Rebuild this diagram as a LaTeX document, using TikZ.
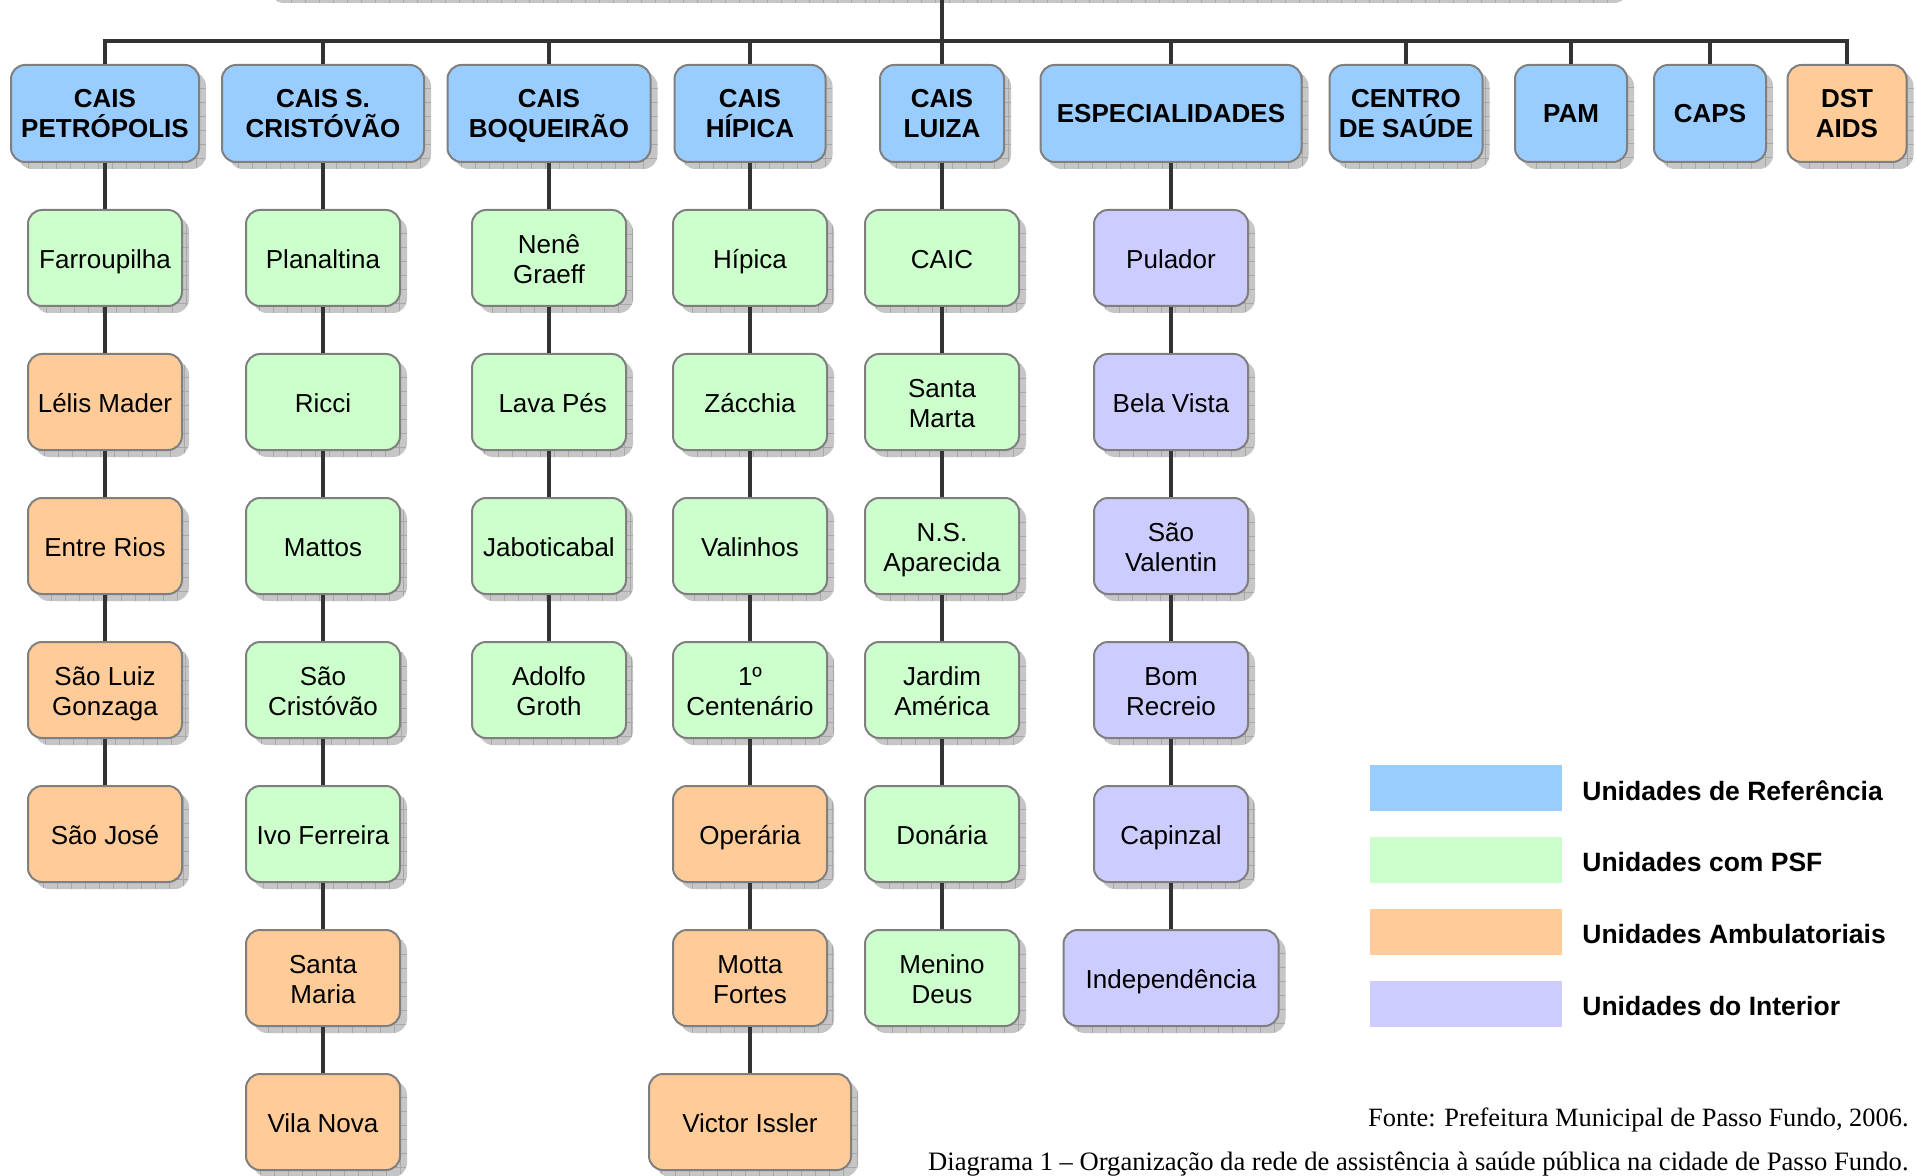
\documentclass[tikz,border=0pt]{standalone}
\usepackage{fontspec}
\setmainfont{Liberation Sans}
\newfontfamily\captionserif{Liberation Serif}
\usetikzlibrary{shadows}

\definecolor{refblue}{HTML}{99CCFF}
\definecolor{psfgreen}{HTML}{CCFFCC}
\definecolor{ambor}{HTML}{FFCC99}
\definecolor{intpurple}{HTML}{CCCCFF}
\definecolor{edgegray}{HTML}{7F7F7F}
\definecolor{shadegray}{HTML}{C6C6C6}
\definecolor{shadegrid}{HTML}{A8A8A8}
\definecolor{linkgray}{HTML}{333333}

\tikzset{
  unitbox/.style={rounded corners=7pt, draw=edgegray, line width=1pt,
    minimum height=48pt, inner sep=1pt, align=center,
    font=\fontsize{13}{15}\selectfont,
    text height=13.6pt, text depth=3.2pt,
    general shadow={fill=shadegray, shadow xshift=3.5pt, shadow yshift=-3.5pt,
      path picture={\draw[shadegrid, line width=0.35pt]
        ([shift={(-7pt,-7pt)}]path picture bounding box.south west) grid[step=7pt]
        (path picture bounding box.north east);}}},
  % two-line labels: the text box is measured from the last baseline
  twoline/.style={text height=28.8pt, text depth=3.2pt},
  refbox/.style={unitbox, fill=refblue, minimum height=48.5pt,
    font=\fontsize{13}{15}\selectfont\bfseries,
    text height=11.6pt, text depth=2.6pt},
  reftwo/.style={text height=26.9pt, text depth=2.6pt},
  psfbox/.style={unitbox, fill=psfgreen, minimum width=77pt},
  ambbox/.style={unitbox, fill=ambor, minimum width=77pt},
  intbox/.style={unitbox, fill=intpurple, minimum width=77pt},
  link/.style={draw=linkgray, line width=2pt},
  buslink/.style={draw=linkgray, line width=1.8pt},
  legendkey/.style={minimum width=96pt, minimum height=23pt, inner sep=0pt},
  legendtext/.style={anchor=base west, inner sep=0pt,
    font=\fontsize{13.25}{15}\selectfont\bfseries},
  note/.style={anchor=base east, inner sep=0pt,
    font=\captionserif\fontsize{13.2}{15}\selectfont},
}

\begin{document}
\begin{tikzpicture}[x=0.5pt, y=-0.5pt]
\fill[white] (0,0) rectangle (1916,1176);
\useasboundingbox (0,0) rectangle (1916,1176);

% network root (only its lower shadow edge falls inside the page)
\node[refbox, minimum width=679pt] (root) at (942,-52.5) {};

% reference units
\node[refbox, reftwo, minimum width=94pt]    (cpet) at (105,113.5)  {CAIS\\PETRÓPOLIS};
\node[refbox, reftwo, minimum width=101pt]   (ccri) at (323,113.5)  {CAIS S.\\CRISTÓVÃO};
\node[refbox, reftwo, minimum width=101.5pt] (cboq) at (549,113.5)  {CAIS\\BOQUEIRÃO};
\node[refbox, reftwo, minimum width=75.5pt]  (chip) at (750,113.5)  {CAIS\\HÍPICA};
\node[refbox, reftwo, minimum width=62pt]    (clui) at (942,113.5)  {CAIS\\LUIZA};
\node[refbox, minimum width=130.5pt]         (esp)  at (1171,113.5) {ESPECIALIDADES};
\node[refbox, reftwo, minimum width=76.5pt]  (cent) at (1406,113.5) {CENTRO\\DE SAÚDE};
\node[refbox, minimum width=56pt]            (pam)  at (1571,113.5) {PAM};
\node[refbox, minimum width=56pt]            (caps) at (1710,113.5) {CAPS};
\node[refbox, reftwo, minimum width=59.5pt, fill=ambor] (dst) at (1847,113.5) {DST\\AIDS};

% CAIS Petrópolis
\node[psfbox] (pet1) at (105,258) {Farroupilha};
\node[ambbox] (pet2) at (105,402) {Lélis Mader};
\node[ambbox] (pet3) at (105,546) {Entre Rios};
\node[ambbox, twoline] (pet4) at (105,690) {São Luiz\\Gonzaga};
\node[ambbox] (pet5) at (105,834) {São José};

% CAIS S. Cristóvão
\node[psfbox] (cri1) at (323,258)  {Planaltina};
\node[psfbox] (cri2) at (323,402)  {Ricci};
\node[psfbox] (cri3) at (323,546)  {Mattos};
\node[psfbox, twoline] (cri4) at (323,690)  {São\\Cristóvão};
\node[psfbox] (cri5) at (323,834)  {Ivo Ferreira};
\node[ambbox, twoline] (cri6) at (323,978)  {Santa\\Maria};
\node[ambbox] (cri7) at (323,1122) {Vila Nova};

% CAIS Boqueirão
\node[psfbox, twoline] (boq1) at (549,258) {Nenê\\Graeff};
\node[psfbox] (boq2) at (549,402) {\hspace*{3.7pt}Lava Pés};
\node[psfbox] (boq3) at (549,546) {Jaboticabal};
\node[psfbox, twoline] (boq4) at (549,690) {Adolfo\\Groth};

% CAIS Hípica
\node[psfbox] (hip1) at (750,258)  {Hípica};
\node[psfbox] (hip2) at (750,402)  {Zácchia};
\node[psfbox] (hip3) at (750,546)  {Valinhos};
\node[psfbox, twoline] (hip4) at (750,690)  {1º\\Centenário};
\node[ambbox] (hip5) at (750,834)  {Operária};
\node[ambbox, twoline] (hip6) at (750,978)  {Motta\\Fortes};
\node[ambbox, minimum width=101pt] (hip7) at (750,1122) {Victor Issler};

% CAIS Luiza
\node[psfbox] (lui1) at (942,258) {CAIC};
\node[psfbox, twoline] (lui2) at (942,402) {Santa\\Marta};
\node[psfbox, twoline] (lui3) at (942,546) {N.S.\\Aparecida};
\node[psfbox, twoline] (lui4) at (942,690) {Jardim\\América};
\node[psfbox] (lui5) at (942,834) {Donária};
\node[psfbox, twoline] (lui6) at (942,978) {Menino\\Deus};

% Especialidades
\node[intbox] (esp1) at (1171,258) {Pulador};
\node[intbox] (esp2) at (1171,402) {Bela Vista};
\node[intbox, twoline] (esp3) at (1171,546) {São\\Valentin};
\node[intbox, twoline] (esp4) at (1171,690) {Bom\\Recreio};
\node[intbox] (esp5) at (1171,834) {Capinzal};
\node[intbox, minimum width=107.5pt] (esp6) at (1171,978) {Independência};

% distribution bus (heavier in its central stretch)
\coordinate (bus) at (0,41);
\draw[link] (root.south) -- (root.south |- bus);
\draw[buslink] (cpet.north) -- (cpet.north |- bus) -- (dst.north |- bus) -- (dst.north);
\draw[link, line width=2.4pt] (ccri.north |- bus) -- (pam.north |- bus);
\foreach \n in {ccri,cboq,chip,clui,esp,cent,pam,caps}
  \draw[link] (\n.north |- bus) -- (\n.north);

% chains of units below each reference unit
\foreach \a/\b in {cpet/pet1,pet1/pet2,pet2/pet3,pet3/pet4,pet4/pet5,
                   ccri/cri1,cri1/cri2,cri2/cri3,cri3/cri4,cri4/cri5,cri5/cri6,cri6/cri7,
                   cboq/boq1,boq1/boq2,boq2/boq3,boq3/boq4,
                   chip/hip1,hip1/hip2,hip2/hip3,hip3/hip4,hip4/hip5,hip5/hip6,hip6/hip7,
                   clui/lui1,lui1/lui2,lui2/lui3,lui3/lui4,lui4/lui5,lui5/lui6,
                   esp/esp1,esp1/esp2,esp2/esp3,esp3/esp4,esp4/esp5,esp5/esp6}
  \draw[link] (\a) -- (\b);

% legend
\node[legendkey, fill=refblue]   (k1) at (1466,788)  {};
\node[legendkey, fill=psfgreen]  (k2) at (1466,860)  {};
\node[legendkey, fill=ambor]     (k3) at (1466,932)  {};
\node[legendkey, fill=intpurple] (k4) at (1466,1004) {};
\node[legendtext] (t1) at (1582,800)  {Unidades de Referência};
\node[legendtext] (t2) at (1582,871)  {Unidades com PSF};
\node[legendtext] (t3) at (1582,943)  {Unidades Ambulatoriais};
\node[legendtext] (t4) at (1582,1015) {Unidades do Interior};

% source and caption
\node[note] (src) at (1909,1126) {Fonte: Prefeitura Municipal de Passo Fundo, 2006.};
\node[note, font=\captionserif\fontsize{13.3}{15}\selectfont] (cap) at (1909,1170)
  {Diagrama 1 – Organização da rede de assistência à saúde pública na cidade de Passo Fundo.};
\end{tikzpicture}
\end{document}
